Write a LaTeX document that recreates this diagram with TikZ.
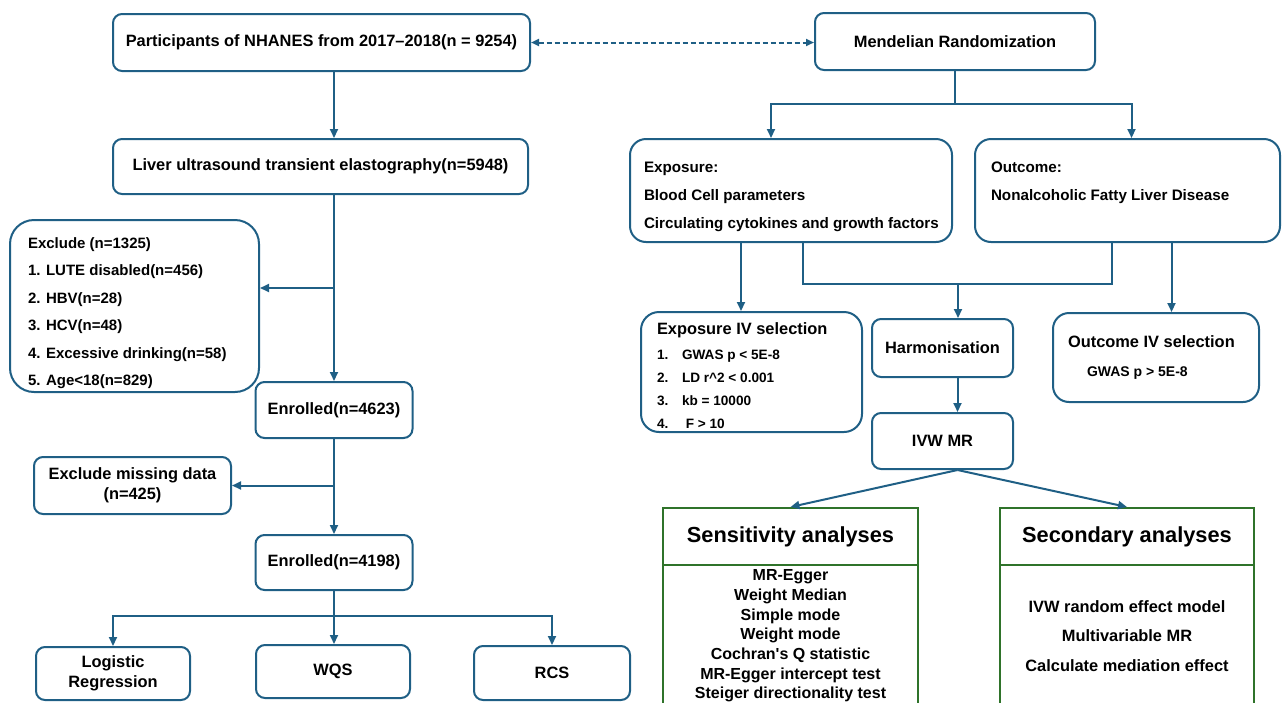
\documentclass[tikz,border=0pt]{standalone}
\usepackage{fontspec}
\setmainfont{Liberation Sans}
\usepackage{tikz}
\usetikzlibrary{arrows.meta, positioning}
\definecolor{flowblue}{RGB}{31,95,133}
\definecolor{flowgreen}{RGB}{47,115,42}
\tikzset{
  box/.style={rectangle, rounded corners=9pt, draw=flowblue, line width=2pt,
              fill=white, align=center, inner sep=0pt,
              font=\bfseries\fontsize{16.4}{20}\selectfont},
  listbox/.style={box, align=flush left},
  gbox/.style={rectangle, draw=flowgreen, line width=2pt, fill=white,
               align=center, inner sep=0pt,
               font=\bfseries\fontsize{16}{19.7}\selectfont},
  line/.style={draw=flowblue, line width=2pt},
  arr/.style={line, -{Triangle[length=9pt, width=8pt]}},
  darr/.style={line, dash pattern=on 5pt off 3pt,
               {Triangle[length=8pt, width=7pt]}-{Triangle[length=8pt, width=7pt]}},
}

\begin{document}
\begin{tikzpicture}[x=1pt, y=-1pt]
  \useasboundingbox (0,0) rectangle (1282,702);

  % NHANES cohort
  \node[box, minimum width=417pt, minimum height=57pt] (nhanes) at (321.5,42.5)
    {Participants of NHANES from 2017--2018(n = 9254)};
  \node[box, minimum width=415pt, minimum height=55pt] (lute) at (320.5,166.5)
    {Liver ultrasound transient elastography(n=5948)};
  \node[listbox, rounded corners=24pt, text width=213pt, inner xsep=18pt,
        minimum height=172pt, font=\bfseries\fontsize{15}{27.4}\selectfont] (excl) at (134.5,306)
    {\rule{0pt}{25pt}Exclude (n=1325)\\1. LUTE disabled(n=456)\\2. HBV(n=28)\\3. HCV(n=48)\\4. Excessive drinking(n=58)\\5. Age<18(n=829)};
  \node[box, minimum width=157pt, minimum height=56pt] (enr1) at (334,410) {Enrolled(n=4623)};
  \node[box, minimum width=197pt, minimum height=57pt] (miss) at (132.5,485.5)
    {Exclude missing data\\(n=425)};
  \node[box, minimum width=157pt, minimum height=55pt] (enr2) at (334,562.5) {Enrolled(n=4198)};
  \node[box, minimum width=154pt, minimum height=53pt] (logit) at (113,673.5) {Logistic\\Regression};
  \node[box, minimum width=154pt, minimum height=53pt] (wqs) at (333,671.5) {WQS};
  \node[box, minimum width=156pt, minimum height=54pt] (rcs) at (552,673) {RCS};

  % Mendelian randomization
  \node[box, minimum width=280pt, minimum height=57pt] (mr) at (955,41.5) {Mendelian Randomization};
  \node[listbox, rounded corners=16pt, text width=294pt, inner xsep=14pt,
        minimum height=103pt, font=\bfseries\fontsize{15.2}{28}\selectfont] (expo) at (791,190.5)
    {\rule{0pt}{23pt}Exposure:\\Blood Cell parameters\\\mbox{Circulating cytokines and growth factors}};
  \node[listbox, rounded corners=16pt, text width=273pt, inner xsep=16pt,
        minimum height=103pt, text depth=46pt, font=\bfseries\fontsize{15.2}{28}\selectfont] (outc) at (1127.5,190.5)
    {Outcome:\\\mbox{Nonalcoholic Fatty Liver Disease}};
  \node[listbox, rounded corners=18pt, text width=189pt, inner xsep=16pt,
        minimum height=120pt, font=\bfseries\fontsize{13.6}{23}\selectfont] (expiv) at (751.5,372)
    {\rule{0pt}{20pt}{\fontsize{16.4}{23}\selectfont Exposure IV selection}\\[2pt]
     \makebox[25pt][l]{1.}GWAS p < 5E-8\\
     \makebox[25pt][l]{2.}LD r\textasciicircum 2 < 0.001\\
     \makebox[25pt][l]{3.}kb = 10000\\
     \makebox[25pt][l]{4.}\ F > 10};
  \node[box, minimum width=141pt, minimum height=58pt] (harm) at (942.5,348) {Harmonisation};
  \node[box, minimum width=141pt, minimum height=56pt] (ivw) at (942.5,441) {IVW MR};
  \node[listbox, rounded corners=16pt, text width=176pt, inner xsep=15pt,
        minimum height=89pt, font=\bfseries\fontsize{16.4}{29}\selectfont] (outiv) at (1156,357.5)
    {\mbox{Outcome IV selection}\\\hspace*{19pt}{\fontsize{14}{29}\selectfont GWAS p > 5E-8}};

  \node[gbox, minimum width=255pt, minimum height=57pt,
        font=\bfseries\fontsize{21.8}{24}\selectfont] (sens) at (790.5,536.5) {Sensitivity analyses};
  \node[gbox, below=-2pt of sens, minimum width=255pt, minimum height=142pt] (sensl)
    {MR-Egger\\Weight Median\\Simple mode\\Weight mode\\Cochran\textquotesingle s Q statistic\\MR-Egger intercept test\\Steiger directionality test};
  \node[gbox, minimum width=254pt, minimum height=57pt,
        font=\bfseries\fontsize{21.8}{24}\selectfont] (sec) at (1127,536.5) {Secondary analyses};
  \node[gbox, below=-2pt of sec, minimum width=254pt, minimum height=142pt,
        font=\bfseries\fontsize{16.4}{29.5}\selectfont] (secl)
    {IVW random effect model\\Multivariable MR\\Calculate mediation effect};

  \coordinate (exj) at (334,288);
  \coordinate (hj) at (958,283);

  \draw[darr] (nhanes.east) -- (nhanes.east -| mr.west);
  \draw[arr] (nhanes.south -| enr1) -- (lute.north -| enr1);
  \draw[arr] (lute.south -| enr1) -- (enr1.north);
  \draw[arr] (exj) -- (exj -| excl.east);
  \draw[arr] (enr1.south) -- (enr2.north);
  \draw[arr] (miss.east -| enr1) -- (miss.east);
  \draw[arr] (enr2.south) -- (wqs.north -| enr2);
  \draw[arr] (enr2.south) -- ++(0,25) -| (logit.north);
  \draw[arr] (enr2.south) -- ++(0,25) -| (rcs.north);

  \draw[arr] (mr.south) -- ++(0,33) -| ([xshift=-20pt]expo.north);
  \draw[arr] (mr.south) -- ++(0,33) -| ([xshift=4pt]outc.north);
  \draw[arr] ([xshift=-50pt]expo.south) -- ([xshift=-50pt]expo.south |- expiv.north);
  \draw[line] ([xshift=12pt]expo.south) -- ++(0,41) -| ([xshift=-16pt]outc.south);
  \draw[arr] (hj) -- (hj |- harm.north);
  \draw[arr] ([xshift=44pt]outc.south) -- ([xshift=44pt]outc.south |- outiv.north);
  \draw[arr] ([xshift=15pt]harm.south) -- ([xshift=15pt]ivw.north);
  \draw[arr] ([xshift=15pt]ivw.south) -- (sens.north);
  \draw[arr] ([xshift=15pt]ivw.south) -- (sec.north);
\end{tikzpicture}
\end{document}
